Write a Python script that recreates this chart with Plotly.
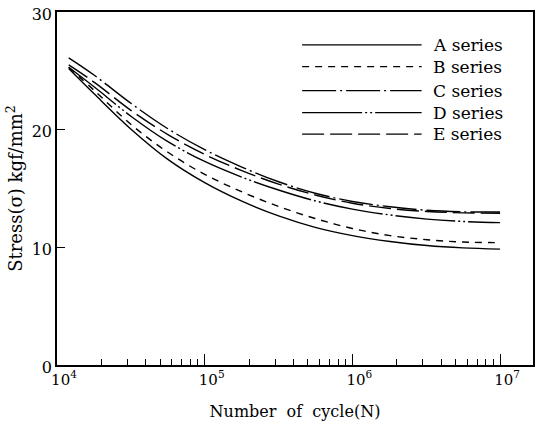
import plotly.graph_objects as go

cycles = [1.2e4, 1.8e4, 3.2e4, 5.6e4, 1e5, 1.8e5, 3.2e5, 5.6e5, 1e6, 1.8e6, 3.2e6, 5.6e6, 1e7]
series_names = ["A series", "B series", "C series", "D series", "E series"]
stress_a = [25.2, 23.0, 20.0, 17.5, 15.5, 13.9, 12.65, 11.7, 11.0, 10.5, 10.15, 9.95, 9.85]
stress_b = [25.3, 23.3, 20.4, 18.1, 16.2, 14.7, 13.45, 12.45, 11.6, 11.0, 10.65, 10.45, 10.4]
stress_c = [26.1, 24.6, 22.2, 20.1, 18.3, 16.8, 15.55, 14.6, 13.9, 13.45, 13.15, 13.02, 13.0]
stress_d = [25.3, 23.6, 21.1, 19.0, 17.3, 15.95, 14.85, 13.95, 13.25, 12.75, 12.4, 12.2, 12.1]
stress_e = [25.5, 24.0, 21.6, 19.6, 17.9, 16.5, 15.35, 14.45, 13.75, 13.3, 13.05, 12.93, 12.9]
x_tick_vals = [1e4, 1e5, 1e6, 1e7]
x_tick_text = ["10<sup>4</sup>", "10<sup>5</sup>", "10<sup>6</sup>", "10<sup>7</sup>"]
y_tick_vals = [0, 10, 20, 30]

all_stress = [stress_a, stress_b, stress_c, stress_d, stress_e]
dashes = ["solid", "7px,6px", "34px,4px,2px,4px", "60px,3px,2px,3px,2px,3px", "22px,6px"]

FONT = "DejaVu Serif, Liberation Serif, serif"
fig = go.Figure()
for name, ys, dash in zip(series_names, all_stress, dashes):
    fig.add_trace(go.Scatter(x=cycles, y=ys, mode="lines", name=name,
                             line=dict(color="black", width=1.4, dash=dash, shape="spline", smoothing=1.0),
                             showlegend=False))

# custom legend (long line samples like the original)
row_y = [0.907, 0.845, 0.777, 0.715, 0.654]
for name, dash, yy in zip(series_names, dashes, row_y):
    fig.add_shape(type="line", xref="paper", yref="paper", x0=0.515, x1=0.766, y0=yy, y1=yy,
                  line=dict(color="black", width=1.3, dash=dash))
    fig.add_annotation(xref="paper", yref="paper", x=0.785, y=yy, text=name, showarrow=False,
                       xanchor="left", yanchor="middle", font=dict(family=FONT, size=17, color="black"))

fig.update_layout(
    width=540, height=438,
    margin=dict(l=57, r=5, t=10, b=73),
    paper_bgcolor="white", plot_bgcolor="white",
    font=dict(family=FONT, color="black"),
)
fig.update_xaxes(type="log", range=[4, 7.223], tickvals=x_tick_vals, ticktext=x_tick_text,
                 ticks="inside", ticklen=11, tickwidth=1.3, tickcolor="black",
                 minor=dict(ticks="inside", ticklen=6, tickwidth=1.2, tickcolor="black", dtick="D1", showgrid=False),
                 showline=True, linecolor="black", linewidth=1.5, mirror=True, showgrid=False, zeroline=False,
                 tickfont=dict(family=FONT, size=15, color="black"), ticklabeloverflow="allow",
                 ticklabelshift=7,
                 title=dict(text="Number&nbsp;&nbsp;of&nbsp;&nbsp;cycle(N)", standoff=18,
                            font=dict(family=FONT, size=16, color="black")))
fig.update_yaxes(range=[0, 30], tickvals=y_tick_vals, ticks="inside", ticklen=8, tickwidth=1.3, tickcolor="black",
                 showline=True, linecolor="black", linewidth=1.5, mirror=True, showgrid=False, zeroline=False,
                 tickfont=dict(family=FONT, size=16, color="black"), ticklabeloverflow="allow",
                 ticklabelshift=2,
                 title=dict(text="Stress(σ) kgf/mm<sup>2</sup>", standoff=4,
                            font=dict(family=FONT, size=18, color="black")))

fig.write_html("out.html", config={"responsive": False, "displayModeBar": False},
               post_script="document.body.style.margin='0';document.body.style.overflow='hidden';")
